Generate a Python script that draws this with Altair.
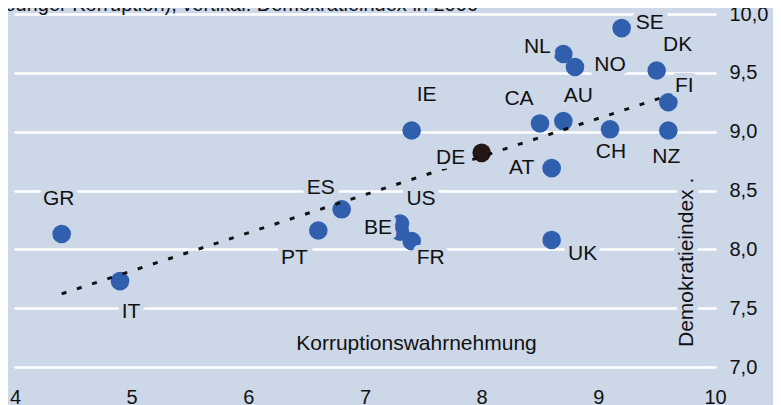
import altair as alt
import pandas as pd

# ---- data ----
countries = ["GR", "IT", "PT", "ES", "US", "BE", "FR", "IE", "DE", "CA",
             "AU", "AT", "UK", "NL", "NO", "SE", "DK", "FI", "CH", "NZ"]
corruption = [4.4, 4.9, 6.6, 6.8, 7.3, 7.3, 7.4, 7.4, 8.0, 8.5,
              8.7, 8.6, 8.6, 8.7, 8.8, 9.2, 9.5, 9.6, 9.1, 9.6]
democracy = [8.13, 7.73, 8.16, 8.34, 8.22, 8.15, 8.07, 9.01, 8.82, 9.07,
             9.09, 8.69, 8.08, 9.66, 9.55, 9.88, 9.52, 9.25, 9.02, 9.01]
highlight = "DE"
x_ticks = [4, 5, 6, 7, 8, 9, 10]
y_ticks = [7.0, 7.5, 8.0, 8.5, 9.0, 9.5, 10.0]
x_title = "Korruptionswahrnehmung"
y_title = "Demokratieindex ."
top_text = "niedriger Korruption), vertikal: Demokratieindex in 2006"

# ---- label placement (pixel offsets from each point) ----
label_offsets = {
    "GR": (-3, -35), "IT": (11, 31), "PT": (-24, 27), "ES": (-21, -21),
    "US": (21, -24), "BE": (-22, -4), "FR": (19, 17), "IE": (15, -35),
    "DE": (-31, 5), "CA": (-21, -24), "AU": (15, -25), "AT": (-30, 0),
    "UK": (31, 14), "NL": (-26, -7), "NO": (35, -2), "SE": (28, -5),
    "DK": (21, -25), "FI": (16, -16), "CH": (1, 23), "NZ": (-2, 27),
}

BG = "#CCD7E8"
BLUE = "#2F5FAD"
DARK = "#231815"
FONT = "Liberation Sans"

df = pd.DataFrame({"country": countries, "corruption": corruption,
                   "democracy": democracy})
one = pd.DataFrame({"k": [0]})

xs = alt.Scale(domain=[4, 10], nice=False, zero=False)
ys = alt.Scale(domain=[7, 10], nice=False, zero=False)

base = alt.Chart(df)

points = base.mark_circle(size=345, opacity=1).encode(
    x=alt.X("corruption:Q", scale=xs,
            axis=alt.Axis(values=x_ticks, grid=False, ticks=False, domain=False,
                          labelPadding=20, labelFontSize=20, labelFlush=False,
                          labelColor="#111", labelFont=FONT, title=None,
                          labelExpr="format(datum.value, 'd')")),
    y=alt.Y("democracy:Q", scale=ys,
            axis=alt.Axis(orient="right", values=y_ticks, grid=True,
                          gridColor="white", gridWidth=2.6, gridCap="round",
                          ticks=False, domain=False, labelPadding=14,
                          labelAlign="left", labelFontSize=20, labelFont=FONT,
                          labelColor="#111", labelFlush=False,
                          labelExpr="replace(format(datum.value, '.1f'), '.', ',')",
                          title=None)),
    color=alt.condition(alt.datum.country == highlight, alt.value(DARK),
                        alt.value(BLUE)),
)

trend = base.transform_regression("corruption", "democracy").mark_line(
    color="#111", strokeWidth=3, strokeDash=[5, 11]
).encode(x=alt.X("corruption:Q", scale=xs), y=alt.Y("democracy:Q", scale=ys))

halos = []
texts = []
for c in countries:
    dx, dy = label_offsets[c]
    sub = base.transform_filter(alt.datum.country == c)
    enc = dict(x=alt.X("corruption:Q", scale=xs), y=alt.Y("democracy:Q", scale=ys),
               text="country:N")
    halos.append(sub.mark_text(dx=dx, dy=dy, fontSize=21, font=FONT, fill=BG,
                               stroke=BG, strokeWidth=10, strokeJoin="round",
                               baseline="middle").encode(**enc))
    texts.append(sub.mark_text(dx=dx, dy=dy, fontSize=21, font=FONT,
                               color="#111", baseline="middle").encode(**enc))

ytitle_halo = alt.Chart(one).mark_text(
    angle=270, align="left", baseline="alphabetic", fontSize=21, font=FONT,
    fill=BG, stroke=BG, strokeWidth=10, strokeJoin="round"
).encode(x=alt.value(678), y=alt.value(333), text=alt.value(y_title))
ytitle = alt.Chart(one).mark_text(
    angle=270, align="left", baseline="alphabetic", fontSize=21, font=FONT,
    color="#111"
).encode(x=alt.value(678), y=alt.value(333), text=alt.value(y_title))

xtitle = alt.Chart(one).mark_text(
    align="center", baseline="alphabetic", fontSize=21, font=FONT, color="#111"
).encode(x=alt.value(401.5), y=alt.value(336), text=alt.value(x_title))

toptext = alt.Chart(one).mark_text(
    align="right", baseline="alphabetic", fontSize=20, font=FONT, color="#111"
).encode(x=alt.value(463), y=alt.value(-3), text=alt.value(top_text))

chart = alt.layer(points, trend, *halos, *texts, ytitle_halo, ytitle, xtitle,
                  toptext).properties(
    width=700, height=353, background=BG,
    autosize=alt.AutoSizeParams(type="none"),
    padding={"left": 7, "top": 6, "right": 58, "bottom": 40},
).configure_view(stroke=None, fill=BG)

chart.save("out.html", embed_options={"renderer": "svg", "actions": False})
